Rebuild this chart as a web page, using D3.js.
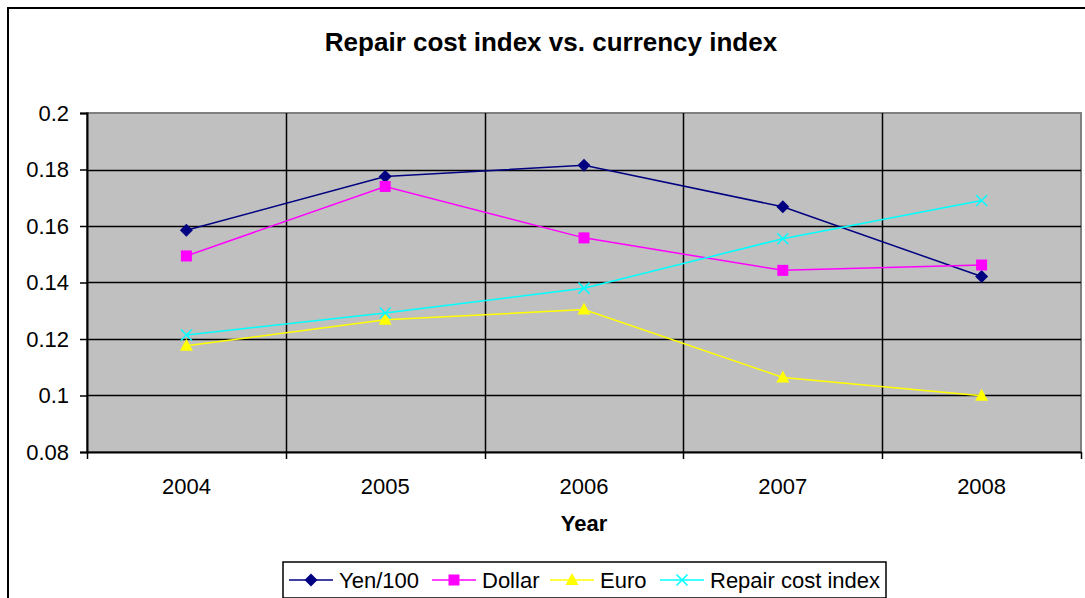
<!DOCTYPE html>
<html><head><meta charset="utf-8">
<script src="https://cdn.jsdelivr.net/npm/d3@7/dist/d3.min.js"></script>
<style>html,body{margin:0;padding:0;background:#fff;overflow:hidden}text{font-family:Arial,"Liberation Sans",sans-serif}</style>
</head><body><svg id="c" width="1085" height="598"></svg>
<script>
const years = ["2004","2005","2006","2007","2008"];
const yen100 = [0.1585, 0.1775, 0.1815, 0.1668, 0.1421];
const dollar = [0.1494, 0.1740, 0.1558, 0.1443, 0.1462];
const euro   = [0.1176, 0.1268, 0.1304, 0.1064, 0.0999];
const repair = [0.1214, 0.1292, 0.1380, 0.1555, 0.1690];
const yTicks = [0.08, 0.1, 0.12, 0.14, 0.16, 0.18, 0.2];
const seriesNames = ["Yen/100","Dollar","Euro","Repair cost index"];
const seriesColors = ["#000080","#FF00FF","#FFFF00","#00FFFF"];
const seriesShapes = ["diamond","square","triangle","x"];
const seriesValues = [yen100, dollar, euro, repair];

const svg = d3.select("#c");
const L = 87, R = 1081, T = 113, B = 452;
const x = d3.scaleBand().domain(years).range([L, R]);
const y = d3.scaleLinear().domain([0.08, 0.2]).range([B, T]);

// outer chart border
svg.append("rect").attr("x",8).attr("y",8).attr("width",1090).attr("height",600)
  .attr("fill","#fff").attr("stroke","#000").attr("stroke-width",2);

// title
svg.append("text").attr("x",551).attr("y",51).attr("text-anchor","middle")
  .style("font-size","26px").style("font-weight","bold").text("Repair cost index vs. currency index");

// plot area
svg.append("rect").attr("x",L).attr("y",T).attr("width",R-L).attr("height",B-T)
  .attr("fill","#C0C0C0").attr("stroke","#808080").attr("stroke-width",2);

// horizontal gridlines
svg.append("g").selectAll("line").data(yTicks.slice(1,-1)).join("line")
  .attr("x1",L).attr("x2",R).attr("y1",d=>Math.round(y(d))+0.5).attr("y2",d=>Math.round(y(d))+0.5)
  .attr("stroke","#000").attr("stroke-width",1.5);
// vertical gridlines at band boundaries
const bounds = years.slice(1).map(d=>x(d));
svg.append("g").selectAll("line").data(bounds).join("line")
  .attr("x1",d=>Math.round(d)+0.5).attr("x2",d=>Math.round(d)+0.5).attr("y1",T).attr("y2",B)
  .attr("stroke","#000").attr("stroke-width",1.5);

// y axis
const yAxis = d3.axisLeft(y).tickValues(yTicks).tickSize(7).tickPadding(11)
  .tickFormat(d=>d3.format("")(+d.toFixed(2)));
const gy = svg.append("g").attr("transform",`translate(${L},0)`).call(yAxis);
gy.select(".domain").attr("stroke","#000").attr("stroke-width",2);
gy.selectAll(".tick line").attr("stroke","#000").attr("stroke-width",1.5);
gy.selectAll(".tick text").style("font-size","22px").attr("fill","#000").attr("font-family",null);

// x axis
const gx = svg.append("g").attr("transform",`translate(0,${B})`)
  .call(d3.axisBottom(x).tickSize(0).tickPadding(26));
gx.select(".domain").attr("stroke","#000").attr("stroke-width",2);
gx.selectAll(".tick text").style("font-size","22px").attr("fill","#000").attr("font-family",null);
svg.append("g").selectAll("line").data([L, ...bounds, R]).join("line")
  .attr("x1",d=>Math.round(d)+0.5).attr("x2",d=>Math.round(d)+0.5).attr("y1",B).attr("y2",B+7)
  .attr("stroke","#000").attr("stroke-width",1.5);

svg.append("text").attr("x",584).attr("y",531).attr("text-anchor","middle")
  .style("font-size","22px").style("font-weight","bold").text("Year");

function marker(g, shape, color, cx, cy){
  if(shape==="diamond"){
    g.append("path").attr("d",`M${cx},${cy-6.5}L${cx+6.5},${cy}L${cx},${cy+6.5}L${cx-6.5},${cy}Z`).attr("fill",color);
  } else if(shape==="square"){
    g.append("rect").attr("x",cx-5.5).attr("y",cy-5.5).attr("width",11).attr("height",11).attr("fill",color);
  } else if(shape==="triangle"){
    g.append("path").attr("d",`M${cx},${cy-7}L${cx+6.5},${cy+5}L${cx-6.5},${cy+5}Z`).attr("fill",color);
  } else {
    g.append("path").attr("d",`M${cx-5.5},${cy-5.5}L${cx+5.5},${cy+5.5}M${cx+5.5},${cy-5.5}L${cx-5.5},${cy+5.5}`)
      .attr("stroke",color).attr("stroke-width",1.5).attr("fill","none");
  }
}

const line = d3.line().x((d,i)=>x(years[i])+x.bandwidth()/2).y(d=>y(d));
seriesValues.forEach((vals, si)=>{
  const g = svg.append("g");
  g.append("path").datum(vals).attr("d",line).attr("fill","none")
    .attr("stroke",seriesColors[si]).attr("stroke-width",1.5);
  vals.forEach((v,i)=>marker(g, seriesShapes[si], seriesColors[si], x(years[i])+x.bandwidth()/2, y(v)));
});

// legend
const lg = svg.append("g");
lg.append("rect").attr("x",283).attr("y",562).attr("width",603).attr("height",36)
  .attr("fill","#fff").attr("stroke","#000").attr("stroke-width",1.5);
const legendStarts = [289, 432, 550, 660];
seriesNames.forEach((n,i)=>{
  const x0 = legendStarts[i], cy = 580;
  lg.append("line").attr("x1",x0).attr("x2",x0+44).attr("y1",cy).attr("y2",cy)
    .attr("stroke",seriesColors[i]).attr("stroke-width",1.5);
  marker(lg, seriesShapes[i], seriesColors[i], x0+22, cy);
  lg.append("text").attr("x",x0+50).attr("y",cy+8).style("font-size","22px").text(n);
});
</script></body></html>
